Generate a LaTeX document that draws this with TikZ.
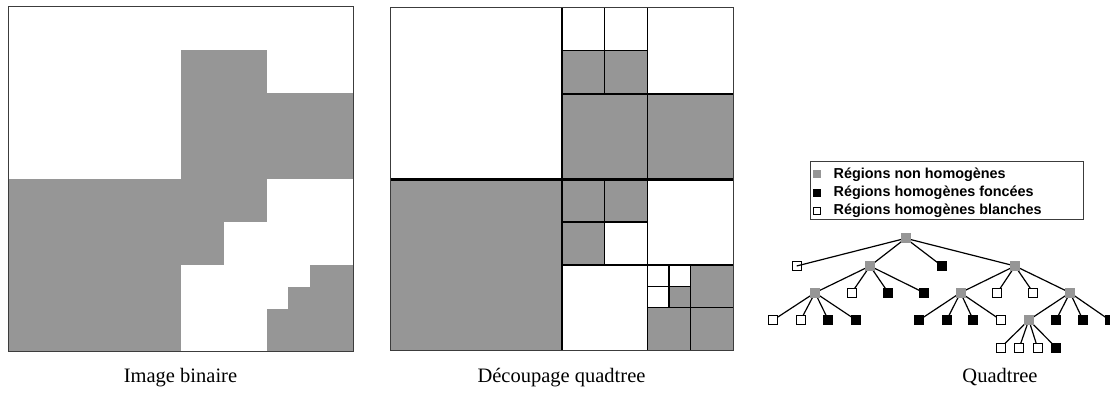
\documentclass[tikz,border=0pt]{standalone}
\usepackage{fontspec}
\setmainfont{Liberation Serif}
\newfontfamily\legfont{Liberation Sans}
\usetikzlibrary{backgrounds}
\definecolor{fillgray}{RGB}{150,150,150}
\definecolor{framegray}{RGB}{60,60,60}
\tikzset{
  region/.style={fill=fillgray, draw=none},
  frame/.style={draw=framegray, line width=1pt},
  lvlA/.style={draw=black, line width=2.6pt},
  lvlB/.style={draw=black, line width=1.8pt},
  lvlC/.style={draw=black, line width=1.2pt},
  nh/.style={fill=fillgray, minimum size=10pt, inner sep=0pt, draw=none},
  hf/.style={fill=black, minimum size=10pt, inner sep=0pt, draw=none},
  hb/.style={fill=white, draw=black, line width=1pt, minimum size=9pt, inner sep=0pt},
  hbo/.style={fill=none, draw=black, line width=1pt, minimum size=9pt, inner sep=0pt},
  edge/.style={draw=black, line width=1.2pt},
  caption/.style={font=\fontsize{20.5}{24}\selectfont, anchor=base, inner sep=0pt},
  legtext/.style={font=\legfont\bfseries\fontsize{14.4}{17}\selectfont, anchor=west, inner sep=0pt},
  legmark/.style={minimum size=8pt, inner sep=0pt}
}
\begin{document}
\begin{tikzpicture}[x=1pt, y=-1pt]
\useasboundingbox (0,0) rectangle (1110,396);
\clip (0,0) rectangle (1110,396);
\begin{scope}[on background layer]
  \fill[white] (0,0) rectangle (1110,396);
\end{scope}

% ---------- Image binaire ----------
\begin{scope}[shift={(8.3,6.8)}, x=43.1pt, y=-43.1pt]
  \fill[region] (4,1) rectangle (6,4);
  \fill[region] (6,2) rectangle (8,4);
  \fill[region] (0,4) rectangle (4,8);
  \fill[region] (4,4) rectangle (6,5);
  \fill[region] (4,5) rectangle (5,6);
  \fill[region] (7,6) rectangle (8,8);
  \fill[region] (6.5,6.5) rectangle (7,8);
  \fill[region] (6,7) rectangle (6.5,8);
  \draw[frame] (0,0) rectangle (8,8);
\end{scope}

% ---------- Decoupage quadtree ----------
\begin{scope}[shift={(390.7,8.0)}, x=42.8pt, y=-42.8pt]
  \fill[region] (4,1) rectangle (6,4);
  \fill[region] (6,2) rectangle (8,4);
  \fill[region] (0,4) rectangle (4,8);
  \fill[region] (4,4) rectangle (6,5);
  \fill[region] (4,5) rectangle (5,6);
  \fill[region] (7,6) rectangle (8,8);
  \fill[region] (6.5,6.5) rectangle (7,8);
  \fill[region] (6,7) rectangle (6.5,8);
  \draw[frame] (0,0) rectangle (8,8);
  % level 3
  \draw[lvlC] (6.5,6) -- (6.5,7) (6,6.5) -- (7,6.5);
  % level 2
  \draw[lvlC] (5,0) -- (5,2) (4,1) -- (6,1);
  \draw[lvlC] (5,4) -- (5,6) (4,5) -- (6,5);
  \draw[lvlC] (7,6) -- (7,8) (6,7) -- (8,7);
  % level 1
  \draw[lvlB] (6,0) -- (6,8) (4,2) -- (8,2) (4,6) -- (8,6);
  % level 0
  \draw[lvlA] (4,0) -- (4,8) (0,4) -- (8,4);
\end{scope}

% ---------- Legend ----------
\draw[framegray, line width=1pt] (810.7,161) rectangle (1083.3,219.5);
\node[legmark, fill=fillgray] (m1) at (816.9,174.3) {};
\node[legmark, fill=black] (m2) at (816.9,192.7) {};
\node[legmark, fill=white, draw=black, line width=0.9pt, minimum size=7.5pt] (m3) at (816.9,211) {};
\node[legtext] (t1) at (833.5,174.3) {Régions non homogènes};
\node[legtext] (t2) at (833.5,192.7) {Régions homogènes foncées};
\node[legtext] (t3) at (833.5,211) {Régions homogènes blanches};

% ---------- Tree ----------
\node[nh] (R) at (905.7,238.3) {};
\node[hbo] (A) at (796.7,266) {};
\node[nh] (B) at (870,266) {};
\node[hf] (C) at (942,266) {};
\node[nh] (D) at (1015,266) {};
\node[nh] (B1) at (815,292.7) {};
\node[hb] (B2) at (851.7,292.7) {};
\node[hf] (B3) at (888.3,292.7) {};
\node[hf] (B4) at (924,292.7) {};
\node[nh] (D1) at (960.5,292.7) {};
\node[hb] (D2) at (997.3,292.7) {};
\node[hb] (D3) at (1033.3,292.7) {};
\node[nh] (D4) at (1070,292.7) {};
\node[hb] (B11) at (773.3,320) {};
\node[hb] (B12) at (800.7,320) {};
\node[hf] (B13) at (828.3,320) {};
\node[hf] (B14) at (856,320) {};
\node[hf] (D11) at (919.3,320) {};
\node[hf] (D12) at (946.7,320) {};
\node[hf] (D13) at (973.3,320) {};
\node[hb] (D14) at (1000.7,320) {};
\node[nh] (D41) at (1028.8,320) {};
\node[hf] (D42) at (1056,320) {};
\node[hf] (D43) at (1083,320) {};
\node[hf] (D44) at (1109.5,320) {};
\node[hb] (D411) at (1000.9,347.5) {};
\node[hb] (D412) at (1019.3,347.5) {};
\node[hb] (D413) at (1037.5,347.5) {};
\node[hf] (D414) at (1056,347.5) {};
\begin{scope}[on background layer]
  \foreach \p/\c in {R/A,R/B,R/C,R/D,B/B1,B/B2,B/B3,B/B4,D/D1,D/D2,D/D3,D/D4,
                     B1/B11,B1/B12,B1/B13,B1/B14,D1/D11,D1/D12,D1/D13,D1/D14,
                     D4/D41,D4/D42,D4/D43,D4/D44,D41/D411,D41/D412,D41/D413,D41/D414}
    \draw[edge] (\p.center) -- (\c.center);
\end{scope}

% ---------- Captions ----------
\node[caption] (cap1) at (180.5,382) {Image binaire};
\node[caption] (cap2) at (561.5,382) {Découpage quadtree};
\node[caption] (cap3) at (1000,382) {Quadtree};
\end{tikzpicture}
\end{document}
